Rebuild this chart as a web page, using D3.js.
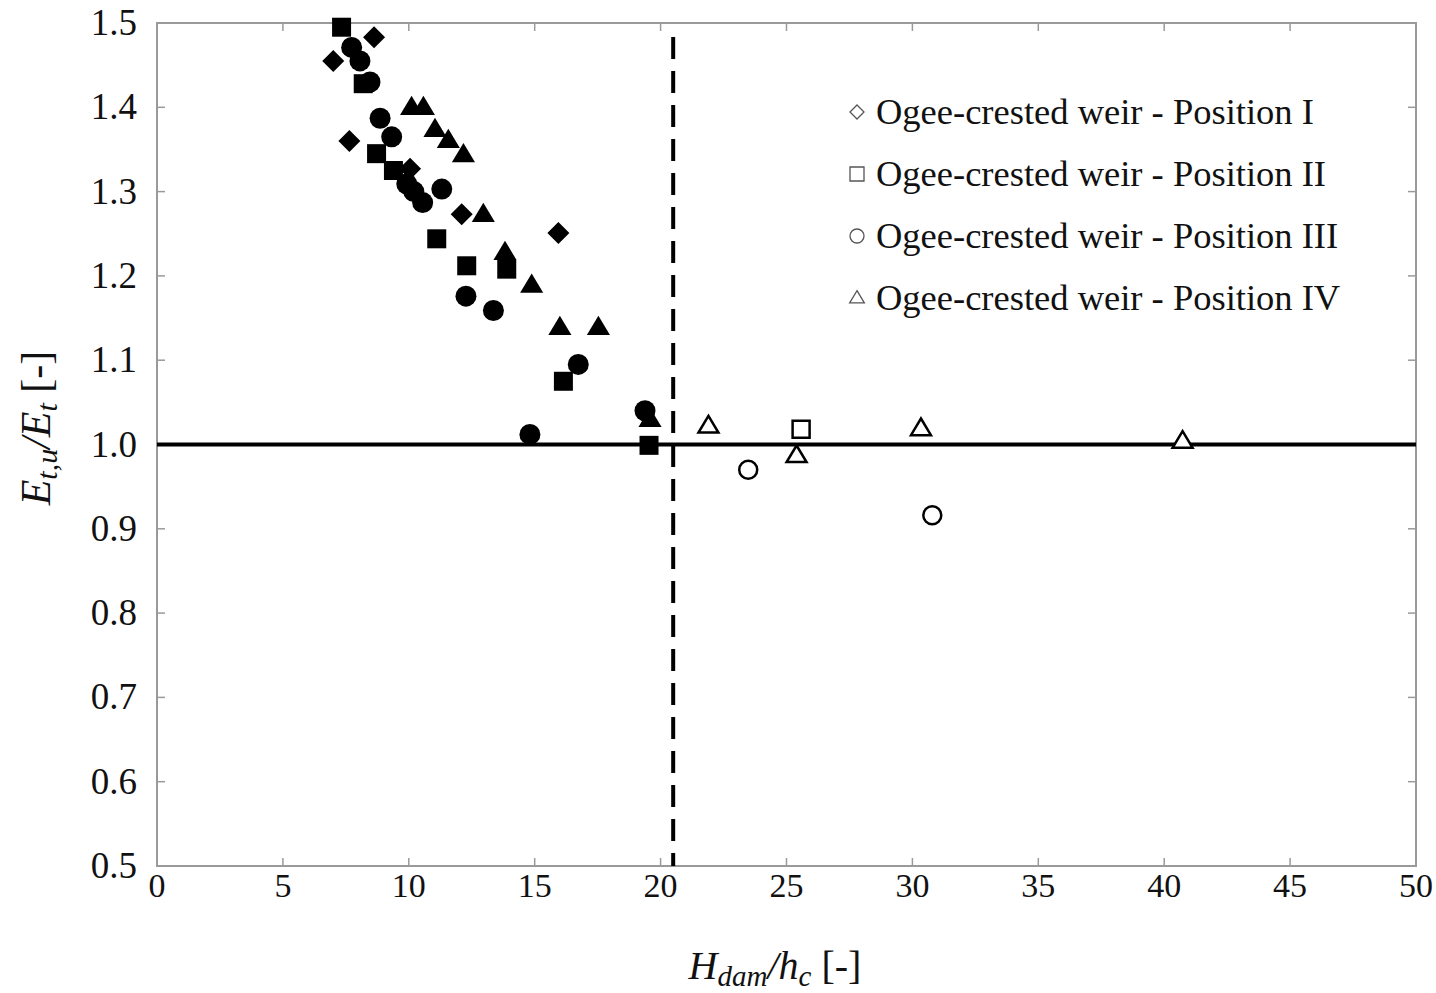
<!DOCTYPE html>
<html>
<head>
<meta charset="utf-8">
<script src="https://cdn.jsdelivr.net/npm/d3@7"></script>
<style>
  body { margin: 0; background: #fff; }
  text { font-family: "Liberation Serif", "Times New Roman", serif; fill: #111; }
</style>
</head>
<body>
<div class="chart"></div>
<script>
// data (x = Hdam/hc, y = Et,u/Et)
var diamondFilled = [[7.0, 1.455], [8.62, 1.483], [7.64, 1.36], [10.05, 1.327], [12.1, 1.273], [15.94, 1.251]];
var squareFilled = [[7.33, 1.495], [8.19, 1.428], [8.72, 1.345], [9.39, 1.325], [11.11, 1.244], [12.3, 1.212], [13.89, 1.208], [16.14, 1.075], [19.54, 0.999]];
var circleFilled = [[7.73, 1.471], [8.06, 1.455], [8.46, 1.43], [8.86, 1.387], [9.32, 1.365], [9.92, 1.309], [10.2, 1.30], [10.55, 1.287], [11.31, 1.303], [12.27, 1.176], [13.36, 1.159], [16.73, 1.095], [19.38, 1.04], [14.81, 1.012]];
var triangleFilled = [[10.11, 1.40], [10.58, 1.40], [11.04, 1.374], [11.57, 1.361], [12.17, 1.344], [12.96, 1.273], [13.82, 1.228], [14.88, 1.189], [16.0, 1.139], [17.53, 1.139], [19.58, 1.03]];

var squareOpen = [[25.58, 1.018]];
var circleOpen = [[23.48, 0.970], [30.79, 0.916]];
var triangleOpen = [[21.9, 1.022], [25.4, 0.987], [30.34, 1.019], [40.73, 1.004]];

var legendLabels = ["Ogee-crested weir - Position I", "Ogee-crested weir - Position II",
  "Ogee-crested weir - Position III", "Ogee-crested weir - Position IV"];
var legendShapes = ["diamond", "square", "circle", "triangle"];

var xTicks = [0, 5, 10, 15, 20, 25, 30, 35, 40, 45, 50];
var yTicks = [0.5, 0.6, 0.7, 0.8, 0.9, 1.0, 1.1, 1.2, 1.3, 1.4, 1.5];
var refLineY = 1.0;
var dashLineX = 20.5;

var svgWidth = 1436;
var svgHeight = 993;
var margin = { top: 23, right: 20, bottom: 127, left: 157 };
var width = 1416 - margin.left;
var height = 866 - margin.top;

var svg = d3.select(".chart").append("svg")
  .attr("width", svgWidth)
  .attr("height", svgHeight);

var chartGroup = svg.append("g")
  .attr("transform", `translate(${margin.left}, ${margin.top})`);

var x = d3.scaleLinear().domain([0, 50]).range([0, width]);
var y = d3.scaleLinear().domain([0.5, 1.5]).range([height, 0]);

// marker paths, r = half size
function markerPath(shape, r) {
  if (shape === "diamond") {
    return `M0,${-r}L${r},0L0,${r}L${-r},0Z`;
  } else if (shape === "square") {
    return `M${-r},${-r}H${r}V${r}H${-r}Z`;
  } else if (shape === "circle") {
    return `M${r},0A${r},${r} 0 1,1 ${-r},0A${r},${r} 0 1,1 ${r},0Z`;
  }
  var h = r * 1.75;
  return `M0,${-h * 0.6}L${r * 1.05},${h * 0.4}L${-r * 1.05},${h * 0.4}Z`;
}

// frame
var axisColor = "#9a9a9a";
chartGroup.append("rect")
  .attr("width", width).attr("height", height)
  .attr("fill", "none").attr("stroke", axisColor).attr("stroke-width", 2);

// inward ticks on all four sides
var tickLen = 8;
xTicks.forEach(function(t) {
  chartGroup.append("line").attr("x1", x(t)).attr("x2", x(t)).attr("y1", height).attr("y2", height - tickLen)
    .attr("stroke", axisColor).attr("stroke-width", 1.5);
  chartGroup.append("line").attr("x1", x(t)).attr("x2", x(t)).attr("y1", 0).attr("y2", tickLen)
    .attr("stroke", axisColor).attr("stroke-width", 1.5);
});
yTicks.forEach(function(t) {
  chartGroup.append("line").attr("x1", 0).attr("x2", tickLen).attr("y1", y(t)).attr("y2", y(t))
    .attr("stroke", axisColor).attr("stroke-width", 1.5);
  chartGroup.append("line").attr("x1", width).attr("x2", width - tickLen).attr("y1", y(t)).attr("y2", y(t))
    .attr("stroke", axisColor).attr("stroke-width", 1.5);
});

// tick labels
chartGroup.append("g").selectAll("text")
  .data(xTicks).enter().append("text")
  .attr("x", d => x(d))
  .attr("y", height + 31)
  .attr("text-anchor", "middle")
  .attr("font-size", 34)
  .text(d => d);

chartGroup.append("g").selectAll("text")
  .data(yTicks).enter().append("text")
  .attr("x", -20)
  .attr("y", d => y(d) + 12)
  .attr("text-anchor", "end")
  .attr("font-size", 37)
  .text(d => d.toFixed(1));

// reference lines
chartGroup.append("line")
  .attr("x1", 0).attr("x2", width)
  .attr("y1", y(refLineY)).attr("y2", y(refLineY))
  .attr("stroke", "#000").attr("stroke-width", 4);

chartGroup.append("line")
  .attr("x1", x(dashLineX)).attr("x2", x(dashLineX))
  .attr("y1", y(1.5) + 14).attr("y2", height)
  .attr("stroke", "#000").attr("stroke-width", 4)
  .attr("stroke-dasharray", "22,12");

// markers
function drawFilled(data, shape, r) {
  chartGroup.append("g").selectAll("path")
    .data(data).enter().append("path")
    .attr("transform", d => `translate(${x(d[0])}, ${y(d[1])})`)
    .attr("d", markerPath(shape, r))
    .attr("fill", "#000");
}
function drawOpen(data, shape, r) {
  chartGroup.append("g").selectAll("path")
    .data(data).enter().append("path")
    .attr("transform", d => `translate(${x(d[0])}, ${y(d[1])})`)
    .attr("d", markerPath(shape, r))
    .attr("fill", "#fff")
    .attr("stroke", "#000")
    .attr("stroke-width", 2.5);
}

drawFilled(diamondFilled, "diamond", 11);
drawFilled(squareFilled, "square", 9.5);
drawFilled(circleFilled, "circle", 10.5);
drawFilled(triangleFilled, "triangle", 11);

drawOpen(squareOpen, "square", 8.5);
drawOpen(circleOpen, "circle", 9);
drawOpen(triangleOpen, "triangle", 9.5);

// legend
var legend = svg.append("g").attr("transform", "translate(857, 112)");
legendLabels.forEach(function(label, i) {
  var row = legend.append("g").attr("transform", `translate(0, ${i * 62})`);
  row.append("path")
    .attr("d", markerPath(legendShapes[i], 7))
    .attr("fill", "#fff").attr("stroke", "#555").attr("stroke-width", 1.3);
  row.append("text")
    .attr("x", 19).attr("y", 12)
    .attr("font-size", 36.5)
    .text(label);
});

// x axis title
var xTitle = svg.append("text")
  .attr("x", 775).attr("y", 979)
  .attr("text-anchor", "middle")
  .attr("font-size", 40);
xTitle.append("tspan").attr("font-style", "italic").text("H");
xTitle.append("tspan").attr("font-style", "italic").attr("font-size", 29).attr("dy", 7).text("dam");
xTitle.append("tspan").attr("font-style", "italic").attr("dy", -7).text("/h");
xTitle.append("tspan").attr("font-style", "italic").attr("font-size", 29).attr("dy", 7).text("c");
xTitle.append("tspan").attr("dy", -7).text(" [-]");

// y axis title
var yTitle = svg.append("text")
  .attr("transform", "translate(50, 428) rotate(-90)")
  .attr("text-anchor", "middle")
  .attr("font-size", 42);
yTitle.append("tspan").attr("font-style", "italic").text("E");
yTitle.append("tspan").attr("font-style", "italic").attr("font-size", 30).attr("dy", 7).text("t,u");
yTitle.append("tspan").attr("font-style", "italic").attr("dy", -7).text("/E");
yTitle.append("tspan").attr("font-style", "italic").attr("font-size", 30).attr("dy", 7).text("t");
yTitle.append("tspan").attr("dy", -7).text(" [-]");
</script>
</body>
</html>
